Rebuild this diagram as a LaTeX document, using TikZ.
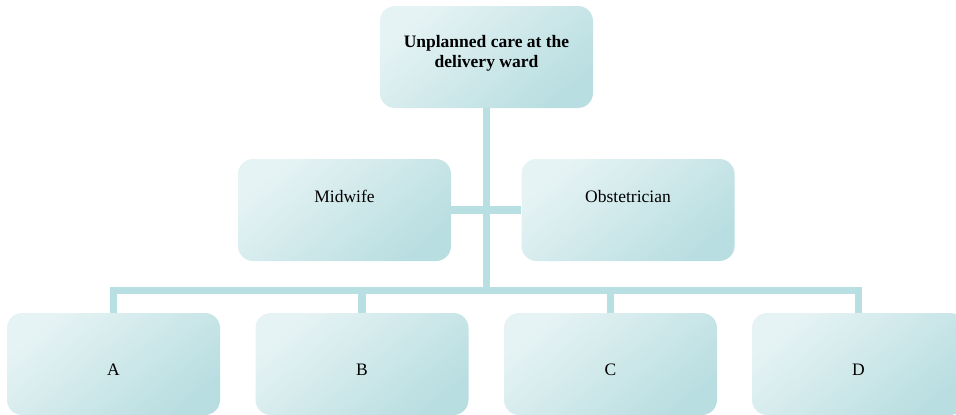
\documentclass[tikz,border=0pt]{standalone}
\usepackage{fontspec}
\setmainfont{Liberation Serif}
\definecolor{boxlight}{HTML}{E6F3F4}
\definecolor{boxdark}{HTML}{B9DEE1}
\definecolor{connc}{HTML}{B8DFE2}
\begin{document}
\begin{tikzpicture}[x=1pt,y=-1pt,
  box/.style={rounded corners=15pt, minimum width=213pt, minimum height=102pt, inner sep=0pt,
    draw=none, top color=boxlight, bottom color=boxdark, shading angle=40},
  conn/.style={draw=connc, line width=7.5pt},
  txt/.style={font=\fontsize{17.5}{20}\selectfont, inner sep=0pt, text=black}]
\useasboundingbox (0,0) rectangle (956,415);
\node[box] (t) at (486.5,57) {};
\node[box] (m) at (344.5,210) {};
\node[box] (o) at (628,210) {};
\node[box] (a) at (113.5,364) {};
\node[box] (b) at (362,364) {};
\node[box] (c) at (610.5,364) {};
\node[box] (d) at (858.5,364) {};
\coordinate (j) at (486,290.5);
\draw[conn] (t.south) -- (t.south |- j);
\draw[conn] (m.east) -- (o.west);
\draw[conn] (a.north) |- (j) -| (d.north);
\draw[conn] (b.north) -- (b.north |- j);
\draw[conn] (c.north) -- (c.north |- j);
\node[txt, align=center, font=\fontsize{17.5}{20}\selectfont\bfseries] (tt) at (486.5,53.5) {Unplanned care at the\\delivery ward};
\node[txt, anchor=base] (mt) at (344.5,202) {Midwife};
\node[txt, anchor=base] (ot) at (628,202) {Obstetrician};
\node[txt, anchor=base] (at) at (113.5,375) {A};
\node[txt, anchor=base] (bt) at (362,375) {B};
\node[txt, anchor=base] (ct) at (610.5,375) {C};
\node[txt, anchor=base] (dt) at (858.5,375) {D};
\end{tikzpicture}
\end{document}
